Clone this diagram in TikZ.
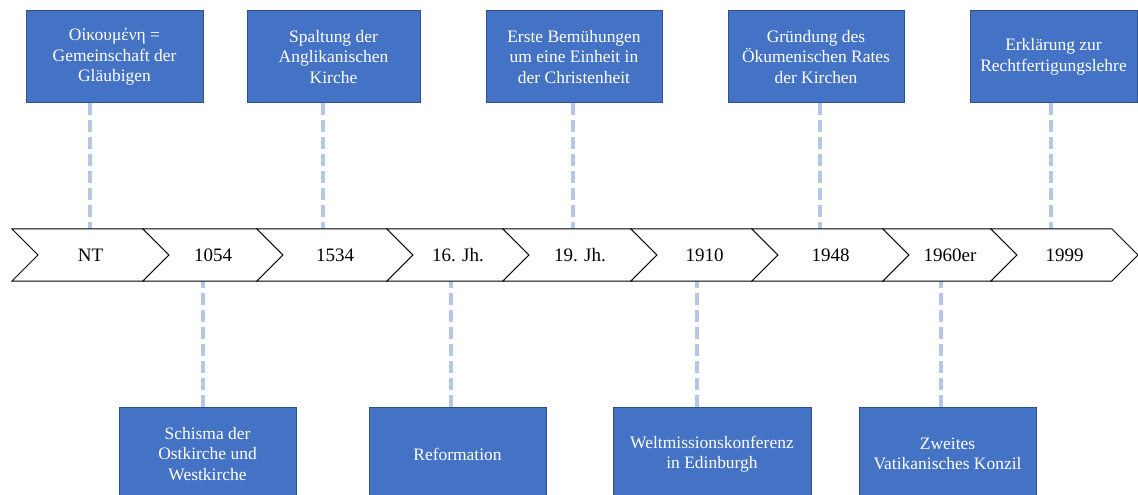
\documentclass[tikz,border=0pt]{standalone}
\usepackage{fontspec}
\setmainfont{Liberation Serif}
\definecolor{boxfill}{HTML}{4472C4}
\definecolor{boxborder}{HTML}{2F528F}
\definecolor{connblue}{HTML}{B4C7E7}
\newcommand\boxfont{\fontsize{13.1pt}{15.4pt}\selectfont}
\newcommand\chevfont{\fontsize{14.25pt}{17pt}\selectfont}
\begin{document}
\begin{tikzpicture}[x=0.75pt,y=-0.75pt,
  box/.style={draw=boxborder, fill=boxfill, line width=0.75pt, text=white, font=\boxfont, align=center, inner sep=0pt},
  topbox/.style={box, minimum height=69pt},
  botbox/.style={box, minimum height=70.5pt},
  chev/.style={draw=black, fill=white, line width=0.75pt, line join=miter},
  lbl/.style={font=\chevfont, text=black, inner sep=0pt},
  conn/.style={draw=connblue, line width=3pt, dash pattern=on 9pt off 3.75pt}]
\useasboundingbox (0,0) rectangle (1138,495);
\clip (0,0) rectangle (1138,495);

% boxes
\node[topbox, minimum width=132.75pt] (b1) at (114.5,57) {Οἰκουμένη =\\Gemeinschaft der\\Gläubigen};
\node[topbox, minimum width=129.75pt] (b2) at (333.5,57) {Spaltung der\\Anglikanischen\\Kirche};
\node[topbox, minimum width=132pt] (b3) at (574,57) {Erste Bemühungen\\um eine Einheit in\\der Christenheit};
\node[topbox, minimum width=132pt] (b4) at (816,57) {Gründung des\\Ökumenischen Rates\\der Kirchen};
\node[topbox, minimum width=125.25pt] (b5) at (1053.5,57) {Erklärung zur\\Rechtfertigungslehre};

\node[botbox, minimum width=132.75pt] (d1) at (207.5,454) {Schisma der\\Ostkirche und\\Westkirche};
\node[botbox, minimum width=132.75pt] (d2) at (457.5,454) {Reformation};
\node[botbox, minimum width=148.5pt] (d3) at (712,454) {Weltmissionskonferenz\\in Edinburgh};
\node[botbox, minimum width=132.75pt] (d4) at (947.5,454) {Zweites\\Vatikanisches Konzil};

% connector end points on the timeline
\coordinate (t1) at (90,229);
\coordinate (t2) at (323,229);
\coordinate (t3) at (573,229);
\coordinate (t4) at (820,229);
\coordinate (t5) at (1051,229);
\coordinate (u1) at (203,281);
\coordinate (u2) at (451,281);
\coordinate (u3) at (697,281);
\coordinate (u4) at (941,281);

\draw[conn] (b1.south -| t1) -- (t1);
\draw[conn] (b2.south -| t2) -- (t2);
\draw[conn] (b3.south -| t3) -- (t3);
\draw[conn] (b4.south -| t4) -- (t4);
\draw[conn] (b5.south -| t5) -- (t5);
\draw[conn] (d1.north -| u1) -- (u1);
\draw[conn] (d2.north -| u2) -- (u2);
\draw[conn] (d3.north -| u3) -- (u3);
\draw[conn] (d4.north -| u4) -- (u4);

% chevrons
\foreach \l/\r/\t/\n in {12/143/NT/c1, 143/257/1054/c2, 257/387/1534/c3, 387/503/16. Jh./c4,
  503/631/19. Jh./c5, 631/752/1910/c6, 752/883/1948/c7, 883/991/1960er/c8, 991/1112/1999/c9} {
  \draw[chev] (\l,229) -- (\r,229) -- (\r+26,255) -- (\r,281) -- (\l,281) -- (\l+26,255) -- cycle;
  \node[lbl] (\n) at ({(\l+\r)/2+13},255) {\t};
}
\end{tikzpicture}
\end{document}
